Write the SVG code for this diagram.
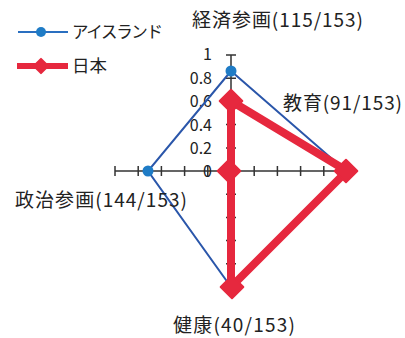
<svg xmlns="http://www.w3.org/2000/svg" width="405" height="338" viewBox="0 0 405 338">
<style>
text{font-family:"Noto Sans CJK JP","Liberation Sans",sans-serif;fill:#222}
.lbl{font-size:19px}
.tk{font-size:16px;text-anchor:end}
.ax{stroke:#333;stroke-width:1.5;fill:none}
.blue{stroke:#2a56aa;stroke-width:2;fill:none;stroke-linejoin:miter}
.red{stroke:#e6283e;stroke-width:8;fill:none;stroke-linejoin:round}
.bdot{fill:#1f7cc6}
.rdia{fill:#e6283e;stroke:#e6283e;stroke-width:2;stroke-linejoin:round}
</style>
<defs>
<rect id="dia" x="-8" y="-8" width="16" height="16" transform="rotate(45)"/>
</defs>
<rect width="405" height="338" fill="#fff"/>
<g id="axes">
<path class="ax" d="M231,55V287M226,55H236M115,171H347"/>
<path class="ax" d="M226,148H236M226,124.6H236M226,101.4H236M226,78.2H236M226,194.2H236M226,217.4H236M226,240.6H236M226,263.8H236"/>
<path class="ax" d="M115,166V176M138.2,166V176M161.4,166V176M184.6,166V176M207.8,166V176M254.2,166V176M277.4,166V176M300.6,166V176M323.8,166V176"/>
<text class="tk" x="212" y="60">1</text>
<text class="tk" x="212" y="84">0.8</text>
<text class="tk" x="212" y="107">0.6</text>
<text class="tk" x="212" y="131">0.4</text>
<text class="tk" x="212" y="154">0.2</text>
<text class="tk" x="212" y="177">0</text>
</g>
<g id="connectors">
<polygon class="blue" points="231,71 346,171 231,287 148,171"/>
<polygon class="red" points="231,101 347,171 231,287 231,171"/>
</g>
<g id="iceland-points">
<circle class="bdot" cx="231" cy="71" r="5.5"/>
<circle class="bdot" cx="148" cy="171" r="5.5"/>
</g>
<g id="japan-points">
<use href="#dia" class="rdia" transform="translate(231,101)"/>
<use href="#dia" class="rdia" transform="translate(346,171)"/>
<use href="#dia" class="rdia" transform="translate(232,287)"/>
<use href="#dia" class="rdia" transform="translate(229,171)"/>
</g>
<g id="label-econ"><text class="lbl" x="192" y="27" textLength="171">経済参画(115/153)</text></g>
<g id="label-edu"><text class="lbl" x="283" y="110" textLength="119">教育(91/153)</text></g>
<g id="label-pol"><text class="lbl" x="15" y="207" textLength="172">政治参画(144/153)</text></g>
<g id="label-health"><text class="lbl" x="173" y="332" textLength="122">健康(40/153)</text></g>
<g id="legend">
<line x1="18" y1="32" x2="68" y2="32" stroke="#2a6fc0" stroke-width="2"/>
<circle class="bdot" cx="41" cy="32" r="5"/>
<text x="72" y="38" font-size="16.5" textLength="91">アイスランド</text>
<line x1="17" y1="66" x2="68" y2="66" stroke="#e6283e" stroke-width="6"/>
<rect x="-5" y="-5" width="10" height="10" class="rdia" transform="translate(41,66) rotate(45)"/>
<text x="72" y="72" font-size="17.5">日本</text>
</g>
</svg>
